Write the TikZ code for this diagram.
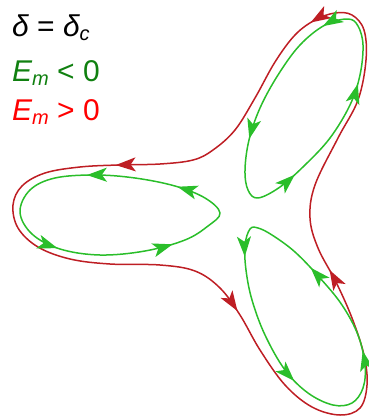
\documentclass[tikz,border=0pt]{standalone}
\usepackage{fontspec}
\setmainfont{Liberation Sans}
\usepackage{xcolor}
\usetikzlibrary{arrows.meta, decorations.markings}
\definecolor{loopred}{RGB}{190,30,36}
\definecolor{loopgreen}{RGB}{42,190,42}
\definecolor{textgreen}{RGB}{16,128,16}
\definecolor{textred}{RGB}{255,0,0}
\newcommand{\lowidx}[1]{\raisebox{-4pt}{\fontsize{20}{20}\selectfont\itshape #1}}
\tikzset{flowtip/.tip={Stealth[length=20pt, width=14pt, inset=5pt]}}
\tikzstyle{orbit}=[line width=1.5pt, line join=round]
\tikzstyle{legend}=[anchor=base west, inner sep=0pt, font=\fontsize{30}{36}\selectfont]
\tikzset{flow/.style n args={4}{postaction={decorate}, decoration={markings,
  mark=at position #1 with {\arrow{flowtip}},
  mark=at position #2 with {\arrow{flowtip}},
  mark=at position #3 with {\arrow{flowtip}},
  mark=at position #4 with {\arrow{flowtip}}}}}

\begin{document}
\begin{tikzpicture}[x=1pt, y=-1pt]
  \useasboundingbox (0,0) rectangle (368,418);
  \node[legend] (deltatext) at (12,36) {{\itshape δ} = {\itshape δ}\lowidx{c}};
  \node[legend, text=textgreen] (negtext) at (12,81) {{\itshape E}\lowidx{m} < 0};
  \node[legend, text=textred] (postext) at (12,120) {{\itshape E}\lowidx{m} > 0};
  % outer orbit
  \draw[orbit, loopred, flow={0.06}{0.362}{0.61}{0.857}] plot[smooth cycle, tension=0.6] coordinates {
    (213,150) (193,160) (160,164) (118,165) (80,167) (45,173) (22,186) (13,205)
    (18,228) (38,247) (70,259) (110,264) (160,265) (195,271) (220,288) (240,315)
    (260,350) (285,385) (312,407) (340,415) (360,408) (367,385) (364,355) (352,318)
    (336,282) (318,248) (310,218) (315,185) (338,138) (358,100) (366,60) (364,30)
    (352,15) (335,13) (315,20) (295,35) (275,62) (255,98) (235,130)};
  % inner orbits
  \draw[orbit, loopgreen, flow={0.065}{0.265}{0.57}{0.825}] plot[smooth cycle, tension=0.6] coordinates {
    (220,213) (205,198) (175,186) (135,178) (95,175) (55,178) (30,190)
    (20,212) (32,234) (60,249) (100,255) (145,251) (185,240) (208,226)};
  \draw[orbit, loopgreen, flow={0.005}{0.305}{0.545}{0.79}] plot[smooth cycle, tension=0.6] coordinates {
    (348,19) (325,25) (300,45) (278,75) (260,108) (249,140) (245,170) (248,190)
    (258,198) (280,187) (305,165) (330,138) (350,105) (360,75) (363,45) (358,26)};
  \draw[orbit, loopgreen, flow={0.025}{0.32}{0.585}{0.80}] plot[smooth cycle, tension=0.6] coordinates {
    (250,229) (245,245) (246,270) (252,300) (265,335) (285,370) (308,393) (333,405)
    (352,403) (363,388) (365,365) (358,335) (342,305) (320,278) (295,252) (272,235) (258,228)};
\end{tikzpicture}
\end{document}
